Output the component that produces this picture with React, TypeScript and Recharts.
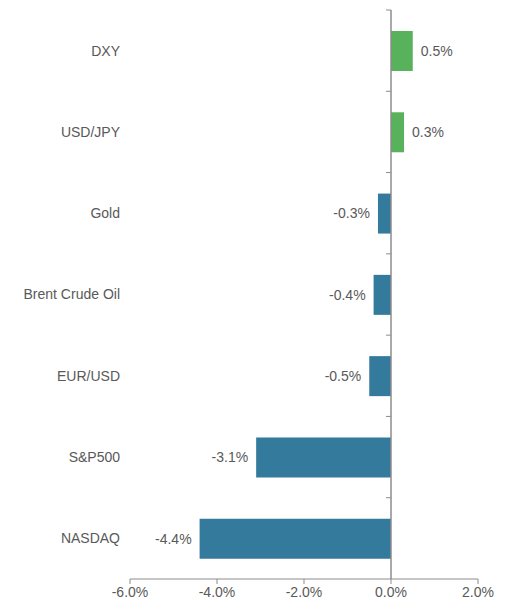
import React from 'react';
import { BarChart, Bar, XAxis, YAxis, Cell, LabelList, ReferenceLine } from 'recharts';

const categories = ['DXY', 'USD/JPY', 'Gold', 'Brent Crude Oil', 'EUR/USD', 'S&P500', 'NASDAQ'];
const changes = [0.5, 0.3, -0.3, -0.4, -0.5, -3.1, -4.4];
const xTicks = [-6, -4, -2, 0, 2];

const GREEN = '#58b15b';
const BLUE = '#347a9c';
const TEXT = '#595959';
const AXIS = '#8c8c8c';

const W = 508;
const H = 604;
const MARGIN = { top: 10, right: 30, bottom: 0, left: 0 };
const Y_WIDTH = 130;
const X_HEIGHT = 25;

const data = categories.map((name, i) => ({ name, value: changes[i] }));

// zero line sits inside the plot, so the little category ticks are drawn with the labels
const plotW = W - MARGIN.left - MARGIN.right - Y_WIDTH;
const plotH = H - MARGIN.top - MARGIN.bottom - X_HEIGHT;
const zeroX = MARGIN.left + Y_WIDTH + ((0 - xTicks[0]) / (xTicks[xTicks.length - 1] - xTicks[0])) * plotW;
const band = plotH / categories.length;

const CategoryTick = (props: any) => {
  const { x, y, payload } = props;
  return (
    <g>
      <text x={x} y={y} dy="0.35em" textAnchor="end" fill={TEXT} fontSize={14}>
        {payload.value}
      </text>
      <line x1={zeroX - 5} x2={zeroX} y1={y - band / 2} y2={y - band / 2} stroke={AXIS} />
    </g>
  );
};

const ValueLabel = (props: any) => {
  const { x, y, width, height, value } = props;
  const neg = value < 0;
  const left = Math.min(x, x + width);
  const right = Math.max(x, x + width);
  return (
    <text
      x={neg ? left - 8 : right + 8}
      y={y + height / 2}
      dy="0.35em"
      textAnchor={neg ? 'end' : 'start'}
      fill={TEXT}
      fontSize={14}
    >
      {`${value.toFixed(1)}%`}
    </text>
  );
};

export default function App() {
  return (
    <div style={{ position: 'absolute', left: 0, top: 0, fontFamily: '"Liberation Sans", Arial, sans-serif' }}>
      <BarChart width={W} height={H} data={data} layout="vertical" margin={MARGIN}>
        <XAxis
          type="number"
          domain={[xTicks[0], xTicks[xTicks.length - 1]]}
          ticks={xTicks}
          tickFormatter={(v: number) => `${v.toFixed(1)}%`}
          height={X_HEIGHT}
          stroke={AXIS}
          tick={{ fill: TEXT, fontSize: 14 }}
          tickSize={5}
          tickMargin={3}
        />
        <YAxis
          type="category"
          dataKey="name"
          width={Y_WIDTH}
          axisLine={false}
          tickLine={false}
          tickMargin={4}
          tick={<CategoryTick />}
        />
        <ReferenceLine x={0} stroke={AXIS} strokeWidth={1.5} />
        <Bar dataKey="value" barSize={40} isAnimationActive={false}>
          {data.map((d, i) => (
            <Cell key={`c-${i}`} fill={d.value >= 0 ? GREEN : BLUE} />
          ))}
          <LabelList dataKey="value" content={<ValueLabel />} />
        </Bar>
      </BarChart>
    </div>
  );
}
